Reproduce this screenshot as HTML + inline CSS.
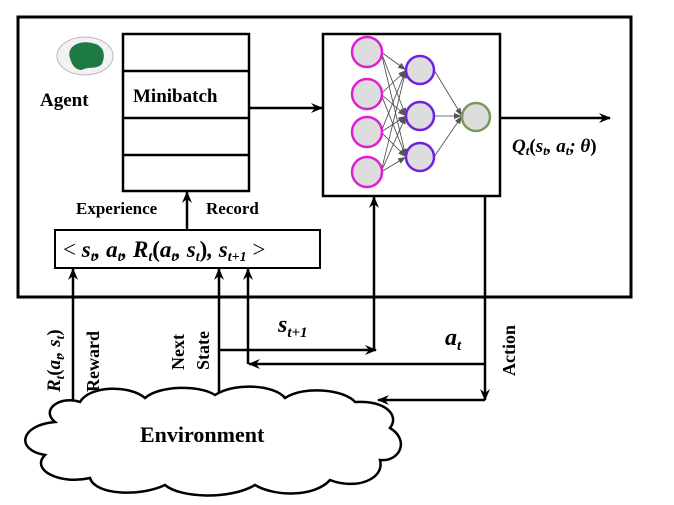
<!DOCTYPE html>
<html><head><style>
body{margin:0;background:#fff;}
text{font-family:"Liberation Serif",serif;font-weight:bold;}
</style></head><body>
<svg width="674" height="500" viewBox="0 0 674 500" xmlns="http://www.w3.org/2000/svg">
<defs>
<marker id="a" markerWidth="12" markerHeight="10" refX="11" refY="5" orient="auto" markerUnits="userSpaceOnUse">
<path d="M0,0 L12,5 L0,10 L4,5 Z" fill="#000"/></marker>
<marker id="s" markerWidth="8" markerHeight="6" refX="8" refY="3" orient="auto" markerUnits="userSpaceOnUse">
<path d="M0,0 L8,3 L0,6 Z" fill="#555"/></marker>
</defs>
<rect x="18" y="17" width="613" height="280" fill="none" stroke="#000" stroke-width="3"/>
<ellipse cx="85" cy="56" rx="28" ry="19" fill="#f2f2f2" stroke="#bbb"/>
<path d="M70,58 C66,46 80,40 92,43 C104,45 106,55 102,64 C96,70 88,66 82,70 C76,70 72,66 70,58Z" fill="#1e7a45"/>
<text x="40" y="106" font-size="19">Agent</text>
<rect x="123" y="34" width="126" height="157" fill="#fff" stroke="#000" stroke-width="2.5"/>
<line x1="123" y1="71" x2="249" y2="71" stroke="#000" stroke-width="2.5"/>
<line x1="123" y1="118" x2="249" y2="118" stroke="#000" stroke-width="2.5"/>
<line x1="123" y1="155" x2="249" y2="155" stroke="#000" stroke-width="2.5"/>
<text x="133" y="102" font-size="19">Minibatch</text>
<line x1="249" y1="108" x2="322" y2="108" stroke="#000" stroke-width="2.5" marker-end="url(#a)"/>
<rect x="323" y="34" width="177" height="162" fill="#fff" stroke="#000" stroke-width="2.5"/>
<g stroke="#444" stroke-width="0.8" marker-end="url(#s)">
<line x1="381" y1="52" x2="406" y2="70"/><line x1="381" y1="52" x2="406" y2="116"/><line x1="381" y1="52" x2="406" y2="157"/>
<line x1="381" y1="94" x2="406" y2="70"/><line x1="381" y1="94" x2="406" y2="116"/><line x1="381" y1="94" x2="406" y2="157"/>
<line x1="381" y1="132" x2="406" y2="70"/><line x1="381" y1="132" x2="406" y2="116"/><line x1="381" y1="132" x2="406" y2="157"/>
<line x1="381" y1="172" x2="406" y2="70"/><line x1="381" y1="172" x2="406" y2="116"/><line x1="381" y1="172" x2="406" y2="157"/>
<line x1="434" y1="70" x2="462" y2="116"/><line x1="434" y1="116" x2="462" y2="116"/><line x1="434" y1="157" x2="462" y2="116"/>
</g>
<g fill="#ddd" stroke="#e020d0" stroke-width="2.5">
<circle cx="367" cy="52" r="15"/><circle cx="367" cy="94" r="15"/><circle cx="367" cy="132" r="15"/><circle cx="367" cy="172" r="15"/></g>
<g fill="#ddd" stroke="#7020e0" stroke-width="2.5">
<circle cx="420" cy="70" r="14"/><circle cx="420" cy="116" r="14"/><circle cx="420" cy="157" r="14"/></g>
<circle cx="476" cy="117" r="14" fill="#ddd" stroke="#7a9a5a" stroke-width="2.5"/>
<line x1="500" y1="118" x2="610" y2="118" stroke="#000" stroke-width="2.5" marker-end="url(#a)"/>
<text x="512" y="152" font-size="19" font-style="italic">Q<tspan font-size="13" dy="3">t</tspan><tspan dy="-3" font-style="normal">(</tspan>s<tspan font-size="13" dy="3">t</tspan><tspan dy="-3">, a</tspan><tspan font-size="13" dy="3">t</tspan><tspan dy="-3">; θ</tspan><tspan font-style="normal">)</tspan></text>
<text x="76" y="214" font-size="17">Experience</text>
<text x="206" y="214" font-size="17">Record</text>
<line x1="187" y1="230" x2="187" y2="192" stroke="#000" stroke-width="2.5" marker-end="url(#a)"/>
<rect x="55" y="230" width="265" height="38" fill="#fff" stroke="#000" stroke-width="2"/>
<text x="63" y="257" font-size="23" font-style="italic"><tspan font-style="normal" font-weight="normal">&lt; </tspan>s<tspan font-size="14" dy="4">t</tspan><tspan dy="-4">, a</tspan><tspan font-size="14" dy="4">t</tspan><tspan dy="-4">, R</tspan><tspan font-size="14" dy="4">t</tspan><tspan dy="-4" font-style="normal">(</tspan>a<tspan font-size="14" dy="4">t</tspan><tspan dy="-4">, s</tspan><tspan font-size="14" dy="4">t</tspan><tspan dy="-4" font-style="normal">)</tspan>, s<tspan font-size="14" dy="4">t+1</tspan><tspan dy="-4" font-style="normal" font-weight="normal"> &gt;</tspan></text>
<g stroke="#000" stroke-width="2.5" fill="none">
<line x1="73" y1="400" x2="73" y2="269" marker-end="url(#a)"/>
<line x1="219" y1="392" x2="219" y2="269" marker-end="url(#a)"/>
<line x1="248" y1="364" x2="248" y2="269" marker-end="url(#a)"/>
<line x1="219" y1="350" x2="376" y2="350" marker-end="url(#a)"/>
<line x1="374" y1="350" x2="374" y2="197" marker-end="url(#a)"/>
<line x1="485" y1="196" x2="485" y2="400" marker-end="url(#a)"/>
<line x1="485" y1="364" x2="249" y2="364" marker-end="url(#a)"/>
<line x1="485" y1="400" x2="378" y2="400" marker-end="url(#a)"/>
</g>
<text x="278" y="332" font-size="24" font-style="italic">s<tspan font-size="15" dy="5">t+1</tspan></text>
<text x="445" y="345" font-size="24" font-style="italic">a<tspan font-size="15" dy="5">t</tspan></text>
<text transform="translate(60,392) rotate(-90)" font-size="19" font-style="italic">R<tspan font-size="13" dy="4">t</tspan><tspan dy="-4" font-style="normal">(</tspan>a<tspan font-size="13" dy="4">t</tspan><tspan dy="-4">, s</tspan><tspan font-size="13" dy="4">t</tspan><tspan dy="-4" font-style="normal">)</tspan></text>
<text transform="translate(99,392) rotate(-90)" font-size="18">Reward</text>
<text transform="translate(184,370) rotate(-90)" font-size="18">Next</text>
<text transform="translate(209,370) rotate(-90)" font-size="18">State</text>
<text transform="translate(515,376) rotate(-90)" font-size="18">Action</text>
<path d="M55,422 C40,410 60,395 80,402 C90,385 130,385 145,398 C160,385 200,385 215,395 C235,382 275,385 285,398 C305,385 345,390 355,402 C385,400 400,415 390,428 C410,440 400,462 380,460 C385,480 355,490 330,480 C315,497 275,497 255,485 C230,500 180,498 165,485 C140,497 95,495 90,478 C60,485 30,470 45,455 C15,450 20,425 55,422 Z" fill="#fff" stroke="#000" stroke-width="2.5"/>
<text x="140" y="442" font-size="22">Environment</text>
</svg>
</body></html>
